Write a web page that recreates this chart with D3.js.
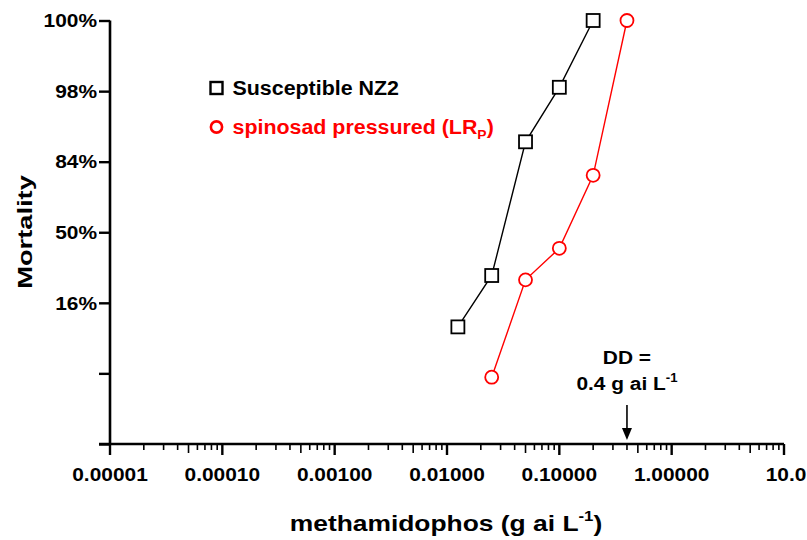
<!DOCTYPE html>
<html>
<head>
<meta charset="utf-8">
<script src="https://cdn.jsdelivr.net/npm/d3@7"></script>
<style>
  html, body { margin: 0; padding: 0; background: #fff; }
  svg { display: block; }
  text { font-family: "Liberation Sans", Arial, Helvetica, sans-serif; font-weight: bold; }
</style>
</head>
<body>
<svg id="chart" width="807" height="540"></svg>
<script>
// ---- data ----
const susceptibleDose = [0.0125, 0.025, 0.05, 0.1, 0.2];
const susceptibleMortality = [9, 27, 90, 98, 100];
const pressuredDose = [0.025, 0.05, 0.1, 0.2, 0.4];
const pressuredMortality = [2, 25, 41, 79, 100];
const yTickPercents = [99.865, 97.72, 84.13, 50, 15.87, 2.28, 0.135];
const yTickLabels = ["100%", "98%", "84%", "50%", "16%", "", ""];
const xTickValues = [0.00001, 0.0001, 0.001, 0.01, 0.1, 1, 10];
const xTickLabels = ["0.00001", "0.00010", "0.00100", "0.01000", "0.10000", "1.00000", "10.0"];
const seriesNames = ["Susceptible NZ2", "spinosad pressured (LR"];
const seriesColors = ["#000000", "#ff0000"];
const diagnosticDose = 0.4;

// inverse normal CDF (probit) for the probability axis
function probit(pct) {
  let p = Math.min(Math.max(pct / 100, 0.00135), 0.99865);
  const a = [-3.969683028665376e+01, 2.209460984245205e+02, -2.759285104469687e+02, 1.383577518672690e+02, -3.066479806614716e+01, 2.506628277459239e+00];
  const b = [-5.447609879822406e+01, 1.615858368580409e+02, -1.556989798598866e+02, 6.680131188771972e+01, -1.328068155288572e+01];
  const c = [-7.784894002430293e-03, -3.223964580411365e-01, -2.400758277161838e+00, -2.549732539343734e+00, 4.374664141464968e+00, 2.938163982698783e+00];
  const d = [7.784695709041462e-03, 3.224671290700398e-01, 2.445134137142996e+00, 3.754408661907416e+00];
  const pl = 0.02425, ph = 1 - pl;
  let q, r;
  if (p < pl) {
    q = Math.sqrt(-2 * Math.log(p));
    return (((((c[0]*q+c[1])*q+c[2])*q+c[3])*q+c[4])*q+c[5]) / ((((d[0]*q+d[1])*q+d[2])*q+d[3])*q+1);
  } else if (p <= ph) {
    q = p - 0.5; r = q * q;
    return (((((a[0]*r+a[1])*r+a[2])*r+a[3])*r+a[4])*r+a[5])*q / (((((b[0]*r+b[1])*r+b[2])*r+b[3])*r+b[4])*r+1);
  } else {
    q = Math.sqrt(-2 * Math.log(1 - p));
    return -(((((c[0]*q+c[1])*q+c[2])*q+c[3])*q+c[4])*q+c[5]) / ((((d[0]*q+d[1])*q+d[2])*q+d[3])*q+1);
  }
}

const svg = d3.select("#chart");
const x = d3.scaleLog().domain([1e-5, 10]).range([110, 784]);
const yP = d3.scaleLinear().domain([-3, 3]).range([444, 20.5]);
const y = pct => yP(probit(pct));

function stretchedText(g, tx, ty, anchor, size, sx, fill) {
  return g.append("text")
    .attr("transform", `translate(${tx},${ty}) scale(${sx},1)`)
    .attr("text-anchor", anchor)
    .attr("font-size", size)
    .attr("fill", fill || "#000");
}

// ---- axes ----
const axisG = svg.append("g");
// y axis
const yAxis = d3.axisLeft(yP).tickValues(yTickPercents.map(probit)).tickSize(11).tickFormat("");
const yg = axisG.append("g").attr("transform", "translate(110,0)").call(yAxis);
yg.select(".domain").attr("stroke", "#000").attr("stroke-width", 2.6).attr("d", `M0,${yP(3)}V${yP(-3)}`);
yg.selectAll(".tick line").attr("stroke-width", 2.4);
yTickPercents.forEach((p, i) => {
  if (!yTickLabels[i]) return;
  stretchedText(axisG, 97, y(p) + 6.8, "end", 19, 1.1).text(yTickLabels[i]);
});

// x axis
const minorVals = [];
for (let e = -5; e < 1; e++) for (let m = 2; m <= 9; m++) minorVals.push(m * Math.pow(10, e));
const xg = axisG.append("g").attr("transform", "translate(0,444)");
xg.append("path").attr("d", `M${x(1e-5) - 11},0H${x(10)}`).attr("stroke", "#000").attr("stroke-width", 2.6).attr("fill", "none");
xg.selectAll("line.minor").data(minorVals).join("line")
  .attr("x1", d => x(d)).attr("x2", d => x(d)).attr("y1", 0)
  .attr("y2", d => Math.abs(d / Math.pow(10, Math.floor(Math.log10(d) + 1e-9)) - 5) < 1e-6 ? 9 : 6)
  .attr("stroke", "#000").attr("stroke-width", 1.6);
xg.selectAll("line.major").data(xTickValues).join("line")
  .attr("x1", d => x(d)).attr("x2", d => x(d)).attr("y1", 0).attr("y2", 11)
  .attr("stroke", "#000").attr("stroke-width", 2.4);
xTickValues.forEach((v, i) => {
  const last = i === xTickValues.length - 1;
  stretchedText(axisG, last ? x(v) + 2 : x(v), 481, "middle", 19, 1.1).text(xTickLabels[i]);
});

// axis titles
svg.append("text")
  .attr("transform", "translate(32,232) rotate(-90) scale(1.3,1)")
  .attr("text-anchor", "middle").attr("font-size", 21).text("Mortality");
const xt = stretchedText(svg, 446, 531, "middle", 22, 1.2);
xt.append("tspan").text("methamidophos (g ai L");
xt.append("tspan").attr("font-size", 14).attr("dy", -10).text("-1");
xt.append("tspan").attr("dy", 10).text(")");

// ---- series ----
const line = d3.line().x(d => x(d[0])).y(d => y(d[1]));
const susData = susceptibleDose.map((d, i) => [d, susceptibleMortality[i]]);
const presData = pressuredDose.map((d, i) => [d, pressuredMortality[i]]);

svg.append("path").datum(susData).attr("d", line).attr("fill", "none").attr("stroke", seriesColors[0]).attr("stroke-width", 1.4);
svg.append("path").datum(presData).attr("d", line).attr("fill", "none").attr("stroke", seriesColors[1]).attr("stroke-width", 1.4);

svg.selectAll("rect.sus").data(susData).join("rect")
  .attr("x", d => x(d[0]) - 6.5).attr("y", d => y(d[1]) - 6.5).attr("width", 13).attr("height", 13)
  .attr("fill", "#fff").attr("stroke", seriesColors[0]).attr("stroke-width", 1.8);
svg.selectAll("circle.pres").data(presData).join("circle")
  .attr("cx", d => x(d[0])).attr("cy", d => y(d[1])).attr("r", 6.5)
  .attr("fill", "#fff").attr("stroke", seriesColors[1]).attr("stroke-width", 1.8);

// ---- legend ----
const lg = svg.append("g");
lg.append("rect").attr("x", 210.5).attr("y", 82).attr("width", 12).attr("height", 12)
  .attr("fill", "#fff").attr("stroke", seriesColors[0]).attr("stroke-width", 2.4);
stretchedText(lg, 232.5, 95, "start", 20, 1.07).text(seriesNames[0]);
lg.append("circle").attr("cx", 216.5).attr("cy", 127).attr("r", 5.6)
  .attr("fill", "#fff").attr("stroke", seriesColors[1]).attr("stroke-width", 2.6);
const lt = stretchedText(lg, 232.5, 134, "start", 20, 1.07, seriesColors[1]);
lt.append("tspan").text(seriesNames[1]);
lt.append("tspan").attr("font-size", 13).attr("dy", 5).text("P");
lt.append("tspan").attr("dy", -5).text(")");

// ---- DD annotation ----
const ax = x(diagnosticDose);
stretchedText(svg, ax, 364, "middle", 19, 1.1).text("DD =");
const dd = stretchedText(svg, ax, 390, "middle", 19, 1.1);
dd.append("tspan").text("0.4 g ai L");
dd.append("tspan").attr("font-size", 12).attr("dy", -8).text("-1");
svg.append("line").attr("x1", ax).attr("x2", ax).attr("y1", 405).attr("y2", 430)
  .attr("stroke", "#000").attr("stroke-width", 1.6);
svg.append("path").attr("d", `M${ax - 5},428L${ax + 5},428L${ax},440Z`).attr("fill", "#000");
</script>
</body>
</html>
